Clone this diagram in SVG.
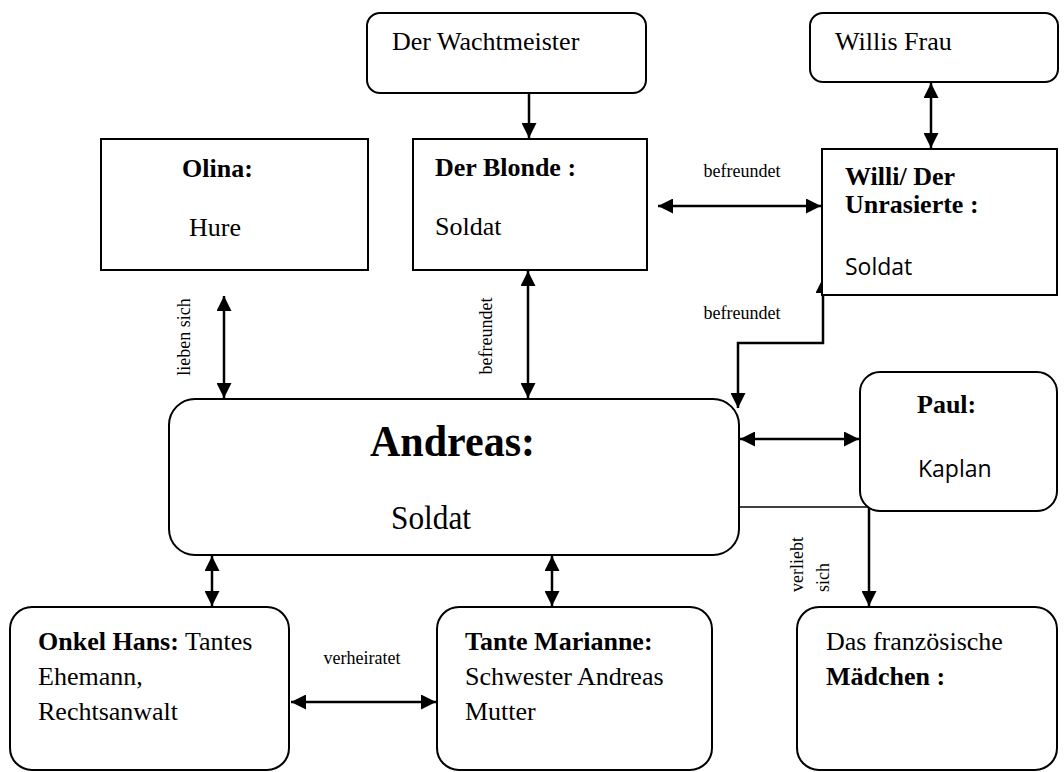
<svg xmlns="http://www.w3.org/2000/svg" width="1064" height="772" viewBox="0 0 1064 772">
<style>
  .box{fill:#fff;stroke:#000;stroke-width:2}
  .t{font-family:"Liberation Serif","Times New Roman",serif;font-size:26px;fill:#000}
  .b{font-weight:bold}
  .s{font-family:"Open Sans","Liberation Sans",sans-serif;font-size:23px;fill:#000}
  .lbl{font-family:"Liberation Serif","Times New Roman",serif;font-size:18px;fill:#000}
  .c{fill:none;stroke:#000;stroke-width:2.5}
  .thin{fill:none;stroke:#000;stroke-width:1.5}
</style>
<defs>
  <marker id="ah" viewBox="0 0 10 10" refX="10" refY="5" markerWidth="15" markerHeight="15" markerUnits="userSpaceOnUse" orient="auto-start-reverse">
    <path d="M0,0 L10,5 L0,10 z" fill="#000"/>
  </marker>
</defs>
<rect width="1064" height="772" fill="#fff"/>

<g id="connectors">
  <line class="c" x1="529" y1="93" x2="529" y2="138" marker-end="url(#ah)"/>
  <line class="c" x1="931" y1="83" x2="931" y2="148" marker-start="url(#ah)" marker-end="url(#ah)"/>
  <line class="c" x1="658" y1="206" x2="821" y2="206" marker-start="url(#ah)" marker-end="url(#ah)"/>
  <text class="lbl" x="742" y="177" text-anchor="middle">befreundet</text>
  <line class="c" x1="224" y1="296" x2="224" y2="398" marker-start="url(#ah)" marker-end="url(#ah)"/>
  <text class="lbl" transform="translate(190,337) rotate(-90)" text-anchor="middle">lieben sich</text>
  <line class="c" x1="528" y1="271" x2="528" y2="398" marker-start="url(#ah)" marker-end="url(#ah)"/>
  <text class="lbl" transform="translate(492,336) rotate(-90)" text-anchor="middle">befreundet</text>
  <polyline class="c" points="823,278 823,343 738,343 738,408" marker-start="url(#ah)" marker-end="url(#ah)"/>
  <text class="lbl" x="742" y="319" text-anchor="middle">befreundet</text>
  <line class="c" x1="740" y1="439" x2="859" y2="439" marker-start="url(#ah)" marker-end="url(#ah)"/>
  <line class="thin" x1="739" y1="507" x2="869" y2="507"/>
  <line class="c" x1="869" y1="507" x2="869" y2="606" marker-end="url(#ah)"/>
  <text class="lbl" transform="translate(803,592) rotate(-90)">verliebt</text>
  <text class="lbl" transform="translate(829,592) rotate(-90)">sich</text>
  <line class="c" x1="212" y1="556" x2="212" y2="606" marker-start="url(#ah)" marker-end="url(#ah)"/>
  <line class="c" x1="552" y1="556" x2="552" y2="606" marker-start="url(#ah)" marker-end="url(#ah)"/>
  <line class="c" x1="291" y1="702" x2="436" y2="702" marker-start="url(#ah)" marker-end="url(#ah)"/>
  <text class="lbl" x="362" y="664" text-anchor="middle">verheiratet</text>
</g>

<g id="wachtmeister">
  <rect class="box" x="367" y="13" width="279" height="80" rx="13"/>
  <text class="t" x="392" y="50">Der Wachtmeister</text>
</g>
<g id="willis-frau">
  <rect class="box" x="810" y="13" width="248" height="69" rx="13"/>
  <text class="t" x="835" y="50">Willis Frau</text>
</g>
<g id="olina">
  <rect class="box" x="101" y="139" width="267" height="131"/>
  <text class="t b" x="182" y="177">Olina:</text>
  <text class="t" x="189" y="236">Hure</text>
</g>
<g id="blonde">
  <rect class="box" x="413" y="139" width="234" height="131"/>
  <text class="t b" x="435" y="176">Der Blonde :</text>
  <text class="t" x="435" y="235">Soldat</text>
</g>
<g id="willi">
  <rect class="box" x="822" y="149" width="235" height="146"/>
  <text class="t b" x="845" y="185">Willi/ Der</text>
  <text class="t b" x="845" y="213">Unrasierte :</text>
  <text class="s" x="845" y="275">Soldat</text>
</g>
<g id="andreas">
  <rect class="box" x="169" y="399" width="570" height="156" rx="26"/>
  <text class="t b" x="370" y="456" textLength="165" lengthAdjust="spacingAndGlyphs" style="font-size:44px">Andreas:</text>
  <text class="t" x="391" y="529" textLength="80" lengthAdjust="spacingAndGlyphs" style="font-size:33px">Soldat</text>
</g>
<g id="paul">
  <rect class="box" x="860" y="372" width="197" height="139" rx="20"/>
  <text class="t b" x="917" y="413">Paul:</text>
  <text class="s" x="918" y="477">Kaplan</text>
</g>
<g id="onkel-hans">
  <rect class="box" x="10" y="607" width="279" height="163" rx="22"/>
  <text class="t" x="38" y="650"><tspan class="b">Onkel Hans:</tspan> Tantes</text>
  <text class="t" x="38" y="685">Ehemann,</text>
  <text class="t" x="38" y="720">Rechtsanwalt</text>
</g>
<g id="tante-marianne">
  <rect class="box" x="437" y="607" width="275" height="163" rx="22"/>
  <text class="t b" x="465" y="650">Tante Marianne:</text>
  <text class="t" x="465" y="685">Schwester Andreas</text>
  <text class="t" x="465" y="720">Mutter</text>
</g>
<g id="maedchen">
  <rect class="box" x="797" y="607" width="260" height="163" rx="22"/>
  <text class="t" x="826" y="650">Das französische</text>
  <text class="t b" x="826" y="685">Mädchen :</text>
</g>
</svg>
